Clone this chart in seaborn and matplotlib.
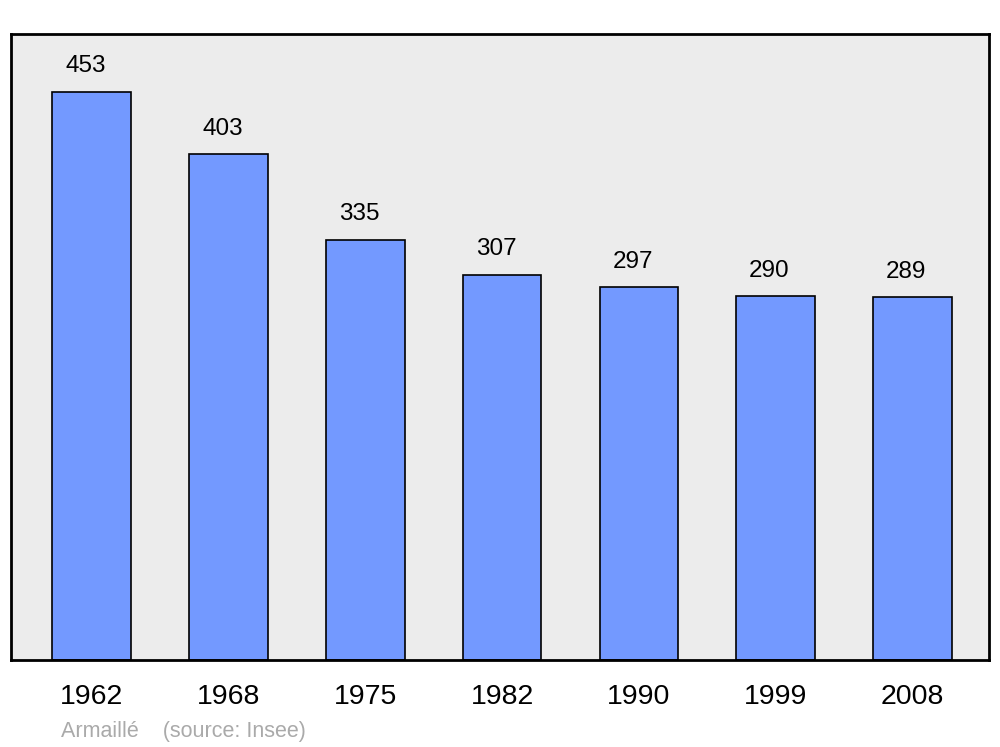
import matplotlib
matplotlib.use("Agg")
import matplotlib.pyplot as plt
import seaborn as sns
import pandas as pd

years = ["1962", "1968", "1975", "1982", "1990", "1999", "2008"]
population = [453, 403, 335, 307, 297, 290, 289]

sns.set_theme(style="white")
plt.rcParams['font.family'] = ['Liberation Sans', 'DejaVu Sans']

df = pd.DataFrame({"year": years, "pop": population})

fig = plt.figure(figsize=(10, 7.47), dpi=100)
ax = fig.add_axes([0.011, 1 - 660/747, 0.978, (660-34)/747])
ax.set_facecolor("#ececec")

sns.barplot(data=df, x="year", y="pop", ax=ax, color="#7399ff", width=0.575,
            edgecolor="black", linewidth=1.2, saturation=1)

for i, v in enumerate(population):
    ax.text(i - 0.045, v + 20.3, str(v), ha="center", va="center", fontsize=17.5, color="black")

ax.set_xlim(-0.59, 6.56)
ax.set_ylim(0, 499)
ax.set_yticks([])
ax.set_xlabel("")
ax.set_ylabel("")
ax.tick_params(axis="x", length=0, labelsize=20.5, pad=17.5, colors="black")
for s in ax.spines.values():
    s.set_color("black")
    s.set_linewidth(2)

fig.text(0.061, 1 - 732/747, "Armaillé    (source: Insee)", fontsize=15.5, color="#aaaaaa",
         ha="left", va="center")

fig.savefig("out.png", dpi=100)
